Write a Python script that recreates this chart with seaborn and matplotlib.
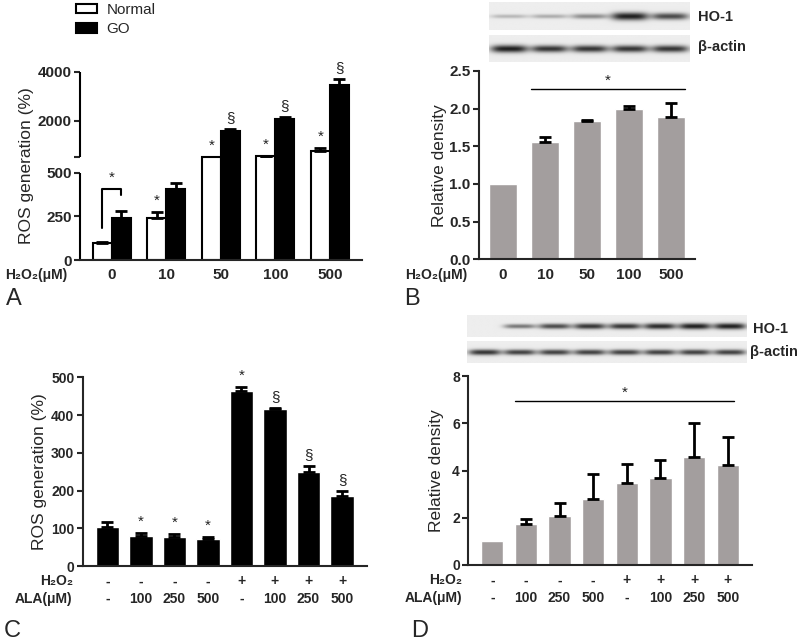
import numpy as np
import pandas as pd
import seaborn as sns
import matplotlib
matplotlib.use('Agg')
import matplotlib.pyplot as plt
import matplotlib.patches as mpatches

# ---------------- data ----------------
# A: ROS generation, normal vs GO fibroblasts
doses_a = ['0', '10', '50', '100', '500']
ros_normal = [100, 239, 510, 553, 770]
ros_normal_err = [4, 36, 0, 18, 120]
ros_go = [242, 405, 1586, 2051, 3451]
ros_go_err = [40, 34, 80, 105, 260]
marks_normal = ['', '*', '*', '*', '*']
marks_go = ['', '', '§', '§', '§']

# B: HO-1 relative density vs H2O2 dose
dens_b = [1.0, 1.56, 1.84, 2.0, 1.89]
dens_b_err = [0.0, 0.07, 0.01, 0.04, 0.18]

# C / D: H2O2 +/- ALA
h2o2_cd = ['-', '-', '-', '-', '+', '+', '+', '+']
ala_cd = ['-', '100', '250', '500', '-', '100', '250', '500']
ros_c = [104, 80, 76, 72, 464, 415, 250, 186]
ros_c_err = [13, 8, 10, 5, 11, 4, 15, 12]
marks_c = ['', '*', '*', '*', '*', '§', '§', '§']
dens_d = [1.0, 1.72, 2.07, 2.79, 3.47, 3.67, 4.58, 4.23]
dens_d_err = [0.0, 0.23, 0.57, 1.06, 0.8, 0.77, 1.41, 1.2]

# western blot band strength per lane (0 = no band, 1 = saturated)
ho1_b = [0.25, 0.3, 0.45, 0.95, 0.75]
actin_b = [0.95, 0.85, 0.85, 0.85, 0.85]
ho1_d = [0.0, 0.55, 0.75, 0.85, 0.85, 0.9, 0.95, 0.95]
actin_d = [0.85, 0.8, 0.8, 0.8, 0.8, 0.8, 0.8, 0.8]

GRAY = '#a39e9e'
W, H = 800, 643
ROW_FS = 10
LAB_FS = 12.5

sns.set_theme(style='ticks')
plt.rcParams['font.family'] = ['Liberation Sans', 'DejaVu Sans']
plt.rcParams['axes.linewidth'] = 1.5

fig = plt.figure(figsize=(W / 100, H / 100), dpi=100)


def px_rect(l, t, r, b):
    return [l / W, 1 - b / H, (r - l) / W, (b - t) / H]


def style(ax, fs):
    sns.despine(ax=ax)
    ax.tick_params(axis='y', length=4, width=1.5, labelsize=fs, pad=2)
    ax.tick_params(axis='x', length=0, labelsize=fs, pad=6)
    for t in ax.get_yticklabels() + ax.get_xticklabels():
        t.set_fontweight('bold')
    ax.set_xlabel('')


def add_err(ax, bars, errs):
    xs, ys, es = [], [], []
    for p, e in zip(bars, errs):
        if e > 0:
            xs.append(p.get_x() + p.get_width() / 2)
            ys.append(p.get_height())
            es.append(e)
    ax.errorbar(xs, ys, yerr=[np.zeros(len(es)), es], fmt='none', ecolor='black',
                elinewidth=2, capsize=4, capthick=2, zorder=4)


def add_marks(ax, bars, errs, marks):
    for p, e, m in zip(bars, errs, marks):
        if m:
            ax.annotate(m, (p.get_x() + p.get_width() / 2, p.get_height() + e),
                        xytext=(0, 3), textcoords='offset points',
                        ha='center', va='bottom', fontsize=11, color='#222222')


def draw_blot(rect, strengths, label, label_xy):
    ax = fig.add_axes(px_rect(*rect))
    h, w = 40, 400
    yy, xx = np.mgrid[0:h, 0:w]
    img = np.full((h, w), 0.93)
    lane = w / len(strengths)
    for i, s in enumerate(strengths):
        xc = (i + 0.5) * lane
        sy = 1.8 + 4.0 * s
        img -= 0.85 * s * np.exp(-((xx - xc) / (0.46 * lane)) ** 4 - ((yy - h / 2) / sy) ** 2)
    ax.imshow(np.clip(img, 0, 1), cmap='gray', vmin=0, vmax=1, aspect='auto',
              interpolation='bilinear')
    ax.axis('off')
    fig.text(label_xy[0] / W, 1 - label_xy[1] / H, label, fontsize=10.5,
             fontweight='bold', va='center', ha='left')


# ---------------- panel A (broken y axis) ----------------
L, G, U = 87.3, 15.4, 85.6


def fwd(v):
    v = np.asarray(v, dtype=float)
    return np.where(v <= 500, v / 500 * L, L + G + (v - 500) / 3500 * U)


def inv(p):
    p = np.asarray(p, dtype=float)
    return np.where(p <= L, p / L * 500,
                    np.where(p < L + G, 500, 500 + (p - L - G) / U * 3500))


df_a = pd.DataFrame({
    'dose': doses_a * 2,
    'cell': ['Normal'] * 5 + ['GO'] * 5,
    'ros': ros_normal + ros_go,
})
ax_a = fig.add_axes(px_rect(80, 71.7, 361.7, 260))
sns.barplot(data=df_a, x='dose', y='ros', hue='cell', hue_order=['Normal', 'GO'],
            palette=['white', 'black'], saturation=1, edgecolor='black',
            linewidth=1.5, width=0.7, errorbar=None, legend=False, ax=ax_a)
ax_a.set_yscale('function', functions=(fwd, inv))
ax_a.set_ylim(0, 4000)
ax_a.set_yticks([0, 250, 500, 500.001, 2000, 4000])
ax_a.set_yticklabels(['0', '250', '500', '', '2000', '4000'])
ax_a.set_ylabel('ROS generation (%)', fontsize=LAB_FS, labelpad=3)
style(ax_a, 11)
ax_a.spines['left'].set_visible(False)
ax_a.plot([0, 0], [0, 500], transform=ax_a.get_yaxis_transform(), color='black',
          lw=1.5, clip_on=False, solid_capstyle='butt')
ax_a.plot([0, 0], [500.001, 4000], transform=ax_a.get_yaxis_transform(),
          color='black', lw=1.5, clip_on=False, solid_capstyle='butt')
bars_n, bars_g = ax_a.containers[0], ax_a.containers[1]
add_err(ax_a, bars_n, ros_normal_err)
add_err(ax_a, bars_g, ros_go_err)
add_marks(ax_a, bars_n, ros_normal_err, marks_normal)
add_marks(ax_a, bars_g, ros_go_err, marks_go)
# bracket between Normal and GO at dose 0
xn = bars_n[0].get_x() + bars_n[0].get_width() / 2
xg = bars_g[0].get_x() + bars_g[0].get_width() / 2
ax_a.plot([xn, xn, xg, xg], [183, 406, 406, 372], color='black', lw=1.5)
ax_a.annotate('*', ((xn + xg) / 2, 406), xytext=(0, 3), textcoords='offset points',
              ha='center', va='bottom', fontsize=11, color='#222222')
ax_a.annotate('H₂O₂(μM)', (-0.266, 0), xycoords='axes fraction', xytext=(0, -6),
              textcoords='offset points', ha='left', va='top', fontsize=ROW_FS,
              fontweight='bold')
fig.legend(handles=[mpatches.Patch(facecolor='white', edgecolor='black', lw=1.5, label='Normal'),
                    mpatches.Patch(facecolor='black', edgecolor='black', lw=1.5, label='GO')],
           loc='upper left', bbox_to_anchor=(76 / W, 1 - 3 / H), frameon=False,
           fontsize=11, handlelength=1.4, handleheight=0.6, labelspacing=0.35,
           handletextpad=0.6, borderaxespad=0, borderpad=0)

# ---------------- panel B ----------------
df_b = pd.DataFrame({'dose': doses_a, 'dens': dens_b})
ax_b = fig.add_axes(px_rect(479, 71, 695, 259.3))
sns.barplot(data=df_b, x='dose', y='dens', color=GRAY, saturation=1, width=0.68,
            errorbar=None, ax=ax_b)
ax_b.set_ylim(0, 2.5)
ax_b.set_yticks(np.arange(0, 2.51, 0.5))
ax_b.set_yticklabels([f'{v:.1f}' for v in np.arange(0, 2.51, 0.5)])
ax_b.set_ylabel('Relative density', fontsize=LAB_FS, labelpad=2)
style(ax_b, 11)
bars_b = ax_b.containers[0]
add_err(ax_b, bars_b, dens_b_err)
x0 = bars_b[1].get_x()
x1 = bars_b[-1].get_x() + bars_b[-1].get_width()
ax_b.plot([x0, x1], [2.26, 2.26], color='black', lw=1.0)
ax_b.annotate('*', ((x0 + x1) / 2, 2.26), xytext=(0, 1), textcoords='offset points',
              ha='center', va='bottom', fontsize=11, color='#222222')
ax_b.annotate('H₂O₂(μM)', (-0.343, 0), xycoords='axes fraction', xytext=(0, -6),
              textcoords='offset points', ha='left', va='top', fontsize=ROW_FS,
              fontweight='bold')
draw_blot((489, 2, 689, 30), ho1_b, 'HO-1', (698, 17))
draw_blot((489, 35, 689, 62), actin_b, 'β-actin', (698, 47))

# ---------------- panel C ----------------
cond_cd = [f'{h}\n{a}' for h, a in zip(h2o2_cd, ala_cd)]
df_c = pd.DataFrame({'cond': cond_cd, 'ros': ros_c})
ax_c = fig.add_axes(px_rect(82.7, 377.3, 366.7, 566))
sns.barplot(data=df_c, x='cond', y='ros', color='black', saturation=1, width=0.7,
            errorbar=None, ax=ax_c)
ax_c.set_ylim(0, 500)
ax_c.set_yticks(range(0, 501, 100))
ax_c.set_ylabel('ROS generation (%)', fontsize=LAB_FS, labelpad=3)
style(ax_c, ROW_FS)
for t in ax_c.get_xticklabels():
    t.set_linespacing(1.35)
bars_c = ax_c.containers[0]
add_err(ax_c, bars_c, ros_c_err)
add_marks(ax_c, bars_c, ros_c_err, marks_c)
ax_c.annotate('H₂O₂\nALA(μM)', (-0.035, 0), xycoords='axes fraction', xytext=(0, -6),
              textcoords='offset points', ha='right', va='top', fontsize=ROW_FS,
              fontweight='bold', linespacing=1.35, multialignment='right')

# ---------------- panel D ----------------
df_d = pd.DataFrame({'cond': cond_cd, 'dens': dens_d})
ax_d = fig.add_axes(px_rect(468.3, 376, 751.7, 565))
sns.barplot(data=df_d, x='cond', y='dens', color=GRAY, saturation=1, width=0.66,
            errorbar=None, ax=ax_d)
ax_d.set_ylim(0, 8)
ax_d.set_yticks(range(0, 9, 2))
ax_d.set_ylabel('Relative density', fontsize=LAB_FS, labelpad=6)
style(ax_d, ROW_FS)
for t in ax_d.get_xticklabels():
    t.set_linespacing(1.35)
bars_d = ax_d.containers[0]
add_err(ax_d, bars_d, dens_d_err)
x0 = bars_d[1].get_x()
x1 = bars_d[-1].get_x() + bars_d[-1].get_width() * 0.8
ax_d.plot([x0, x1], [6.94, 6.94], color='black', lw=1.0)
ax_d.annotate('*', ((x0 + x1) / 2, 6.94), xytext=(0, 1), textcoords='offset points',
              ha='center', va='bottom', fontsize=11, color='#222222')
ax_d.annotate('H₂O₂\nALA(μM)', (-0.023, 0), xycoords='axes fraction', xytext=(0, -6),
              textcoords='offset points', ha='right', va='top', fontsize=ROW_FS,
              fontweight='bold', linespacing=1.35, multialignment='right')
draw_blot((467, 315, 747, 337), ho1_d, 'HO-1', (753, 329))
draw_blot((467, 341, 747, 363), actin_d, 'β-actin', (750, 352))

# panel letters
for letter, (x, y) in zip('ABCD', [(6, 299), (404, 299), (4, 631), (411, 631)]):
    fig.text(x / W, 1 - y / H, letter, fontsize=17, va='center', ha='left')

fig.savefig('out.png', dpi=100)
